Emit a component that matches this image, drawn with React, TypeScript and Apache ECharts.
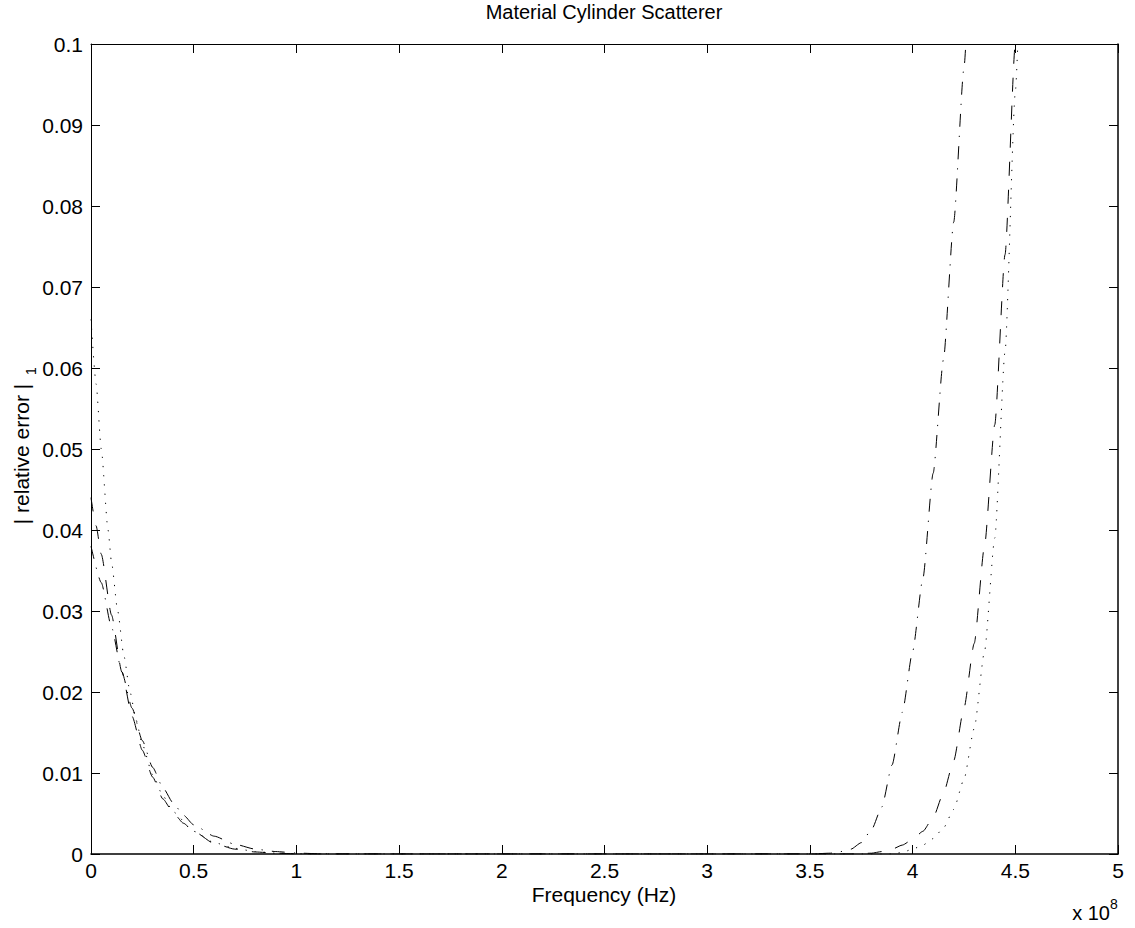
import React, { useEffect, useRef } from "react";
import * as echarts from "echarts";

// Frequency in units of 1e8 Hz
const FREQ_DASH = [0, 0.025, 0.05, 0.1, 0.15, 0.2, 0.25, 0.3, 0.35, 0.4, 0.45, 0.5, 0.6, 0.7, 0.8, 0.9, 1.0, 1.1, 1.5, 2.0, 2.5, 3.0, 3.5, 3.7, 3.8, 3.85, 3.9, 3.95, 4.0, 4.05, 4.1, 4.15, 4.2, 4.25, 4.3, 4.35, 4.4, 4.45, 4.5, 4.52];
const ERR_DASH = [0.044, 0.0405, 0.037, 0.0295, 0.0225, 0.017, 0.0128, 0.0095, 0.0068, 0.0051, 0.0038, 0.0028, 0.0013, 0.0006, 0.00025, 0.0001, 0.00002, 0, 0, 0, 0, 0, 0, 0, 0.0001, 0.0003, 0.0006, 0.0011, 0.0018, 0.0028, 0.0045, 0.0075, 0.0115, 0.018, 0.026, 0.038, 0.053, 0.074, 0.1, 0.11];

const FREQ_DASHDOT = [0, 0.05, 0.1, 0.15, 0.2, 0.25, 0.3, 0.35, 0.4, 0.45, 0.5, 0.6, 0.7, 0.8, 0.9, 1.0, 1.1, 1.2, 1.5, 2.0, 2.5, 3.0, 3.5, 3.6, 3.65, 3.7, 3.75, 3.8, 3.85, 3.9, 3.95, 4.0, 4.05, 4.1, 4.15, 4.2, 4.25, 4.275];
const ERR_DASHDOT = [0.038, 0.0335, 0.028, 0.0225, 0.018, 0.014, 0.0107, 0.0082, 0.0063, 0.0048, 0.0036, 0.0022, 0.0012, 0.0006, 0.0003, 0.00012, 0.00004, 0, 0, 0, 0, 0, 0, 0.0001, 0.0003, 0.0006, 0.0014, 0.003, 0.0058, 0.011, 0.0175, 0.025, 0.034, 0.047, 0.061, 0.078, 0.097, 0.108];

const FREQ_DOT = [0, 0.025, 0.05, 0.083, 0.1, 0.13, 0.16, 0.19, 0.22, 0.25, 0.3, 0.35, 0.4, 0.5, 0.6, 0.7, 0.8, 0.9, 1.0, 1.1, 1.5, 2.0, 2.5, 3.0, 3.5, 3.9, 3.95, 4.0, 4.05, 4.1, 4.15, 4.2, 4.25, 4.3, 4.35, 4.4, 4.45, 4.5, 4.52];
const ERR_DOT = [0.066, 0.058, 0.05, 0.04, 0.036, 0.03, 0.0245, 0.02, 0.0165, 0.0135, 0.0098, 0.0072, 0.0052, 0.0028, 0.0014, 0.0007, 0.0003, 0.0001, 0.00003, 0, 0, 0, 0, 0, 0, 0, 0.0002, 0.0006, 0.0011, 0.0019, 0.0032, 0.0055, 0.0092, 0.0155, 0.025, 0.039, 0.062, 0.094, 0.105];

const TITLE = "Material Cylinder Scatterer";
const X_LABEL = "Frequency (Hz)";
const Y_LABEL = "| relative error |";
const Y_SUB = "1";

const FONT = "'Liberation Sans', Arial, Helvetica, sans-serif";

const zip = (xs: number[], ys: number[]) => xs.map((x, i) => [x, ys[i]]);

export default function App() {
  const ref = useRef<HTMLDivElement>(null);
  useEffect(() => {
    if (!ref.current) return;
    const chart = echarts.init(ref.current, undefined, { renderer: "svg" });
    const axisLine = (w: number) => ({ show: true, onZero: false, lineStyle: { color: "#000", width: w } });
    const tick = { show: true, inside: true, length: 9, lineStyle: { color: "#000", width: 1 } };
    const lineSeries = (name: string, data: number[][], type: any) => ({
      name,
      type: "line",
      data,
      showSymbol: false,
      symbol: "none",
      smooth: 0.2,
      smoothMonotone: "x",
      clip: true,
      lineStyle: { color: "#000", width: 1, type },
      xAxisIndex: 0,
      yAxisIndex: 0,
    });
    chart.setOption({
      animation: false,
      backgroundColor: "#fff",
      grid: { left: 91, right: 17, top: 44, bottom: 74, containLabel: false, outerBoundsMode: "none" },
      xAxis: [
        {
          type: "value", min: 0, max: 5, interval: 0.5, position: "bottom",
          axisLine: axisLine(1.5), axisTick: tick, splitLine: { show: false },
          axisLabel: { color: "#000", fontSize: 21, fontFamily: FONT, margin: 5, lineHeight: 22, formatter: (v: number) => String(+v.toFixed(1)) },
        },
        {
          type: "value", min: 0, max: 5, interval: 0.5, position: "top",
          axisLine: axisLine(1), axisTick: tick, splitLine: { show: false }, axisLabel: { show: false },
        },
      ],
      yAxis: [
        {
          type: "value", min: 0, max: 0.1, interval: 0.01, position: "left",
          axisLine: axisLine(1), axisTick: tick, splitLine: { show: false },
          axisLabel: { color: "#000", fontSize: 21, fontFamily: FONT, margin: 8, formatter: (v: number) => String(+v.toFixed(2)) },
        },
        {
          type: "value", min: 0, max: 0.1, interval: 0.01, position: "right",
          axisLine: axisLine(1.5), axisTick: tick, splitLine: { show: false }, axisLabel: { show: false },
        },
      ],
      series: [
        lineSeries("dotted", zip(FREQ_DOT, ERR_DOT), [1.2, 8]),
        lineSeries("dashed", zip(FREQ_DASH, ERR_DASH), [14, 14]),
        lineSeries("dashdot", zip(FREQ_DASHDOT, ERR_DASHDOT), [13, 9, 1.2, 9]),
      ],
      graphic: [
        {
          type: "text", x: 604, y: 12,
          style: { text: TITLE, font: `20px ${FONT}`, fill: "#000", align: "center", verticalAlign: "middle" },
        },
        {
          type: "text", x: 604, y: 894,
          style: { text: X_LABEL, font: `21px ${FONT}`, fill: "#000", align: "center", verticalAlign: "middle" },
        },
        {
          type: "text", x: 21, y: 454, rotation: Math.PI / 2,
          style: { text: Y_LABEL, font: `21px ${FONT}`, fill: "#000", align: "center", verticalAlign: "middle" },
        },
        {
          type: "text", x: 31, y: 371, rotation: Math.PI / 2,
          style: { text: Y_SUB, font: `14px ${FONT}`, fill: "#000", align: "center", verticalAlign: "middle" },
        },
        {
          type: "text", x: 1110, y: 913,
          style: { text: "x 10", font: `20px ${FONT}`, fill: "#000", align: "right", verticalAlign: "middle" },
        },
        {
          type: "text", x: 1110, y: 904,
          style: { text: "8", font: `14px ${FONT}`, fill: "#000", align: "left", verticalAlign: "middle" },
        },
      ],
    });
    return () => chart.dispose();
  }, []);
  return (
    <div
      ref={ref}
      style={{ position: "fixed", left: 0, top: 0, width: 1135, height: 928, background: "#fff" }}
    />
  );
}
